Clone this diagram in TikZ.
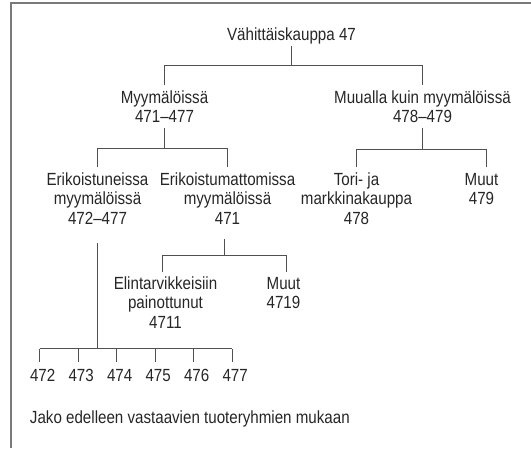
\documentclass[tikz,border=0pt]{standalone}
\usepackage{fontspec}
\setmainfont{Liberation Sans}[FakeStretch=0.86]
\usetikzlibrary{calc}
\definecolor{txt}{HTML}{262626}
\definecolor{ln}{HTML}{505050}
\definecolor{frm}{HTML}{7A7A7A}
\setlength{\tabcolsep}{0pt}
\newcommand{\mlines}[1]{\begin{tabular}[t]{c}#1\end{tabular}}
\begin{document}
\begin{tikzpicture}[x=1pt,y=-1pt,
  lbl/.style={anchor=base, inner sep=0pt, outer sep=0pt, text=txt, font=\fontsize{17.6}{19.5}\selectfont},
  conn/.style={draw=ln, line width=1.1pt}]
\useasboundingbox (0,0) rectangle (531,448);
\draw[frm, line width=2pt] (531,2.5) -- (11,2.5) -- (11,448);

\node[lbl] (root) at (291.5,40) {\mlines{Vähittäiskauppa 47}};
\node[lbl] (myy) at (164.5,103) {\mlines{Myymälöissä\\471–477}};
\node[lbl] (muu) at (422.5,103) {\mlines{Muualla kuin myymälöissä\\478–479}};
\node[lbl] (erik) at (97.5,185) {\mlines{Erikoistuneissa\\myymälöissä\\472–477}};
\node[lbl] (erikm) at (227.5,185) {\mlines{Erikoistumattomissa\\myymälöissä\\471}};
\node[lbl] (tori) at (356.5,185) {\mlines{Tori- ja\\markkinakauppa\\478}};
\node[lbl] (muut479) at (481.5,185) {\mlines{Muut\\479}};
\node[lbl] (elin) at (165.5,289) {\mlines{Elintarvikkeisiin\\painottunut\\4711}};
\node[lbl] (muut4719) at (283.5,289) {\mlines{Muut\\4719}};
\foreach \n [count=\i from 0] in {472,473,474,475,476,477}
  \node[lbl] (n\n) at ({42.7+38.5*\i},381) {\mlines{\n}};
\node[lbl, anchor=base west] (jako) at (30,423) {Jako edelleen vastaavien tuoteryhmien mukaan};

% root -> level 1
\draw[conn] (root.south) -- ++(0,20) coordinate (b0);
\draw[conn, shorten <=4pt, shorten >=4pt] (myy.north) |- (b0) -| (muu.north);
% Myymälöissä -> level 2
\draw[conn] (myy.south) -- ++(0,20) coordinate (b1);
\draw[conn, shorten <=4pt, shorten >=4pt] (erik.north) |- (b1) -| (erikm.north);
% Muualla -> level 2
\draw[conn] (muu.south) -- ++(0,21) coordinate (b2);
\coordinate (m479) at ([xshift=5pt]muut479.north);
\draw[conn, shorten <=4pt, shorten >=4pt] (tori.north) |- (b2) -| (m479);
% Erikoistumattomissa -> level 3
\coordinate (e471) at ([xshift=-3pt]erikm.south);
\draw[conn, shorten <=9pt] (e471) -- ++(0,26) coordinate (b3);
\coordinate (t4711) at ([xshift=-3pt]elin.north);
\coordinate (t4719) at ([xshift=3pt]muut4719.north);
\draw[conn, shorten <=3.5pt, shorten >=3.5pt] (t4711) |- (b3) -| (t4719);
% Erikoistuneissa -> 472..477
\draw[conn, shorten <=13pt] (erik.south) -- ++(0,119) coordinate (b4);
\foreach \n in {472,473,474,475,476,477}
  \coordinate (t\n) at ([xshift=-3pt]n\n.north);
\draw[conn] (b4 -| t472) -- (b4 -| t477);
\foreach \n in {472,473,474,475,476,477}
  \draw[conn, shorten >=5.3pt] (b4 -| t\n) -- (t\n);
\end{tikzpicture}
\end{document}
